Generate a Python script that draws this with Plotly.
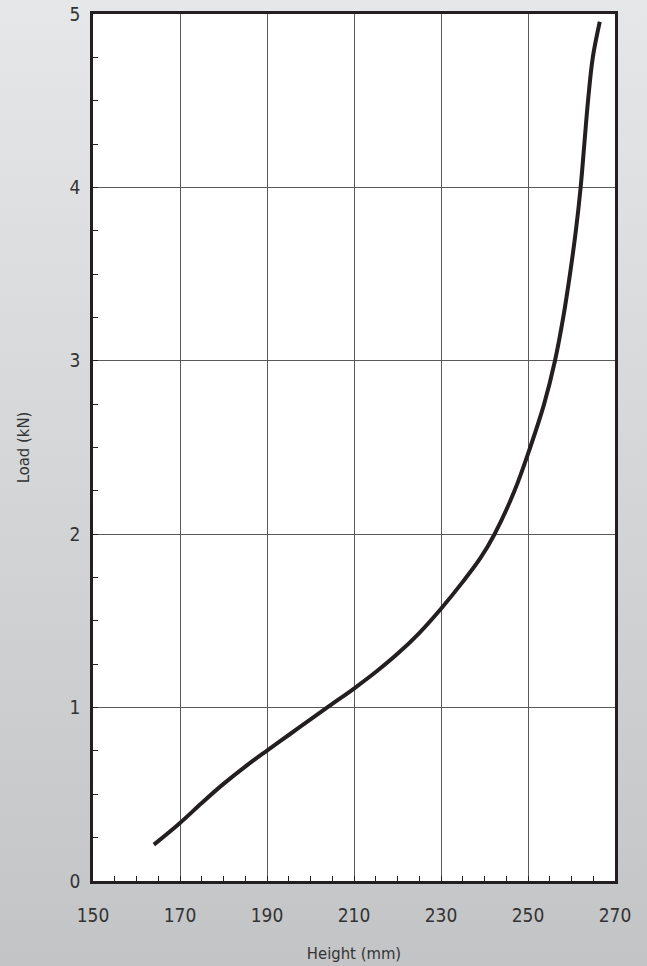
import base64
import plotly.graph_objects as go

# Load–height curve of the spring
height_mm = [164.0, 170.0, 175.0, 180.0, 185.0, 190.0, 195.0, 200.0, 205.0, 210.0,
             215.0, 220.0, 225.0, 230.0, 235.0, 239.0, 242.3, 246.9, 250.5, 253.7,
             256.2, 258.1, 259.65, 261.0, 262.1, 262.95, 263.8, 264.9, 266.5]
load_kn = [0.21, 0.335, 0.45, 0.56, 0.66, 0.752, 0.842, 0.932, 1.021, 1.11,
           1.205, 1.31, 1.43, 1.57, 1.725, 1.86, 2.00, 2.25, 2.50, 2.75,
           3.00, 3.25, 3.50, 3.75, 4.00, 4.25, 4.50, 4.75, 4.955]

x_ticks = [150, 170, 190, 210, 230, 250, 270]
y_ticks = [0, 1, 2, 3, 4, 5]

FONT = "DejaVu Sans Condensed, Liberation Sans Narrow, Arial Narrow, sans-serif"
INK = "#231f20"
TEXT = "#333333"

# vertical grey gradient behind the whole page
svg = (
    '<svg xmlns="http://www.w3.org/2000/svg" width="100" height="100" preserveAspectRatio="none">'
    '<defs><linearGradient id="g" x1="0" y1="0" x2="0" y2="1">'
    '<stop offset="0" stop-color="#e6e7e8"/><stop offset="1" stop-color="#c3c4c6"/>'
    '</linearGradient></defs><rect width="100" height="100" fill="url(#g)"/></svg>'
)
bg_src = "data:image/svg+xml;base64," + base64.b64encode(svg.encode()).decode()

W, H = 647, 966
ml, mr, mt, mb = 93, 32, 14, 85
pw, ph = W - ml - mr, H - mt - mb

fig = go.Figure()
fig.add_trace(go.Scatter(
    x=height_mm, y=load_kn, mode="lines",
    line=dict(color=INK, width=4, shape="spline", smoothing=1.0),
    hoverinfo="skip", showlegend=False,
))

fig.add_layout_image(dict(
    source=bg_src, xref="paper", yref="paper",
    x=-(ml + 2) / pw, y=1 + (mt + 2) / ph, sizex=(W + 4) / pw, sizey=(H + 4) / ph,
    sizing="stretch", xanchor="left", yanchor="top", layer="below",
))
fig.add_shape(type="rect", xref="paper", yref="paper", x0=0, x1=1, y0=0, y1=1,
              fillcolor="white", line=dict(width=0), layer="below")

axis_common = dict(
    showline=True, linecolor=INK, linewidth=2.5, mirror=True,
    showgrid=True, gridcolor="#5a5a5a", gridwidth=1.3,
    zeroline=False, ticks="inside", ticklen=5, tickwidth=1.3, tickcolor=INK,
    tickfont=dict(family=FONT, size=19, color=TEXT),
    automargin=False,
)

fig.update_xaxes(
    range=[150, 270], tickvals=x_ticks, ticktext=[str(v) for v in x_ticks],
    minor=dict(dtick=5, tick0=150, ticks="inside", ticklen=5, tickwidth=1.3,
               tickcolor=INK, showgrid=False),
    ticklabelstandoff=15,
    title=dict(text="Height (mm)", font=dict(family=FONT, size=16.5, color=TEXT), standoff=23),
    **axis_common,
)
fig.update_yaxes(
    range=[0, 5], tickvals=y_ticks, ticktext=[str(v) for v in y_ticks],
    minor=dict(dtick=0.25, tick0=0, ticks="inside", ticklen=5, tickwidth=1.3,
               tickcolor=INK, showgrid=False),
    ticklabelstandoff=6,
    title=dict(text="Load (kN)", font=dict(family=FONT, size=16.5, color=TEXT), standoff=36),
    **axis_common,
)

fig.update_layout(
    width=W, height=H, autosize=False,
    margin=dict(l=ml, r=mr, t=mt, b=mb, pad=0),
    paper_bgcolor="#d5d6d7", plot_bgcolor="white",
    font=dict(family=FONT, color=TEXT),
)

fig.write_html("out.html")
